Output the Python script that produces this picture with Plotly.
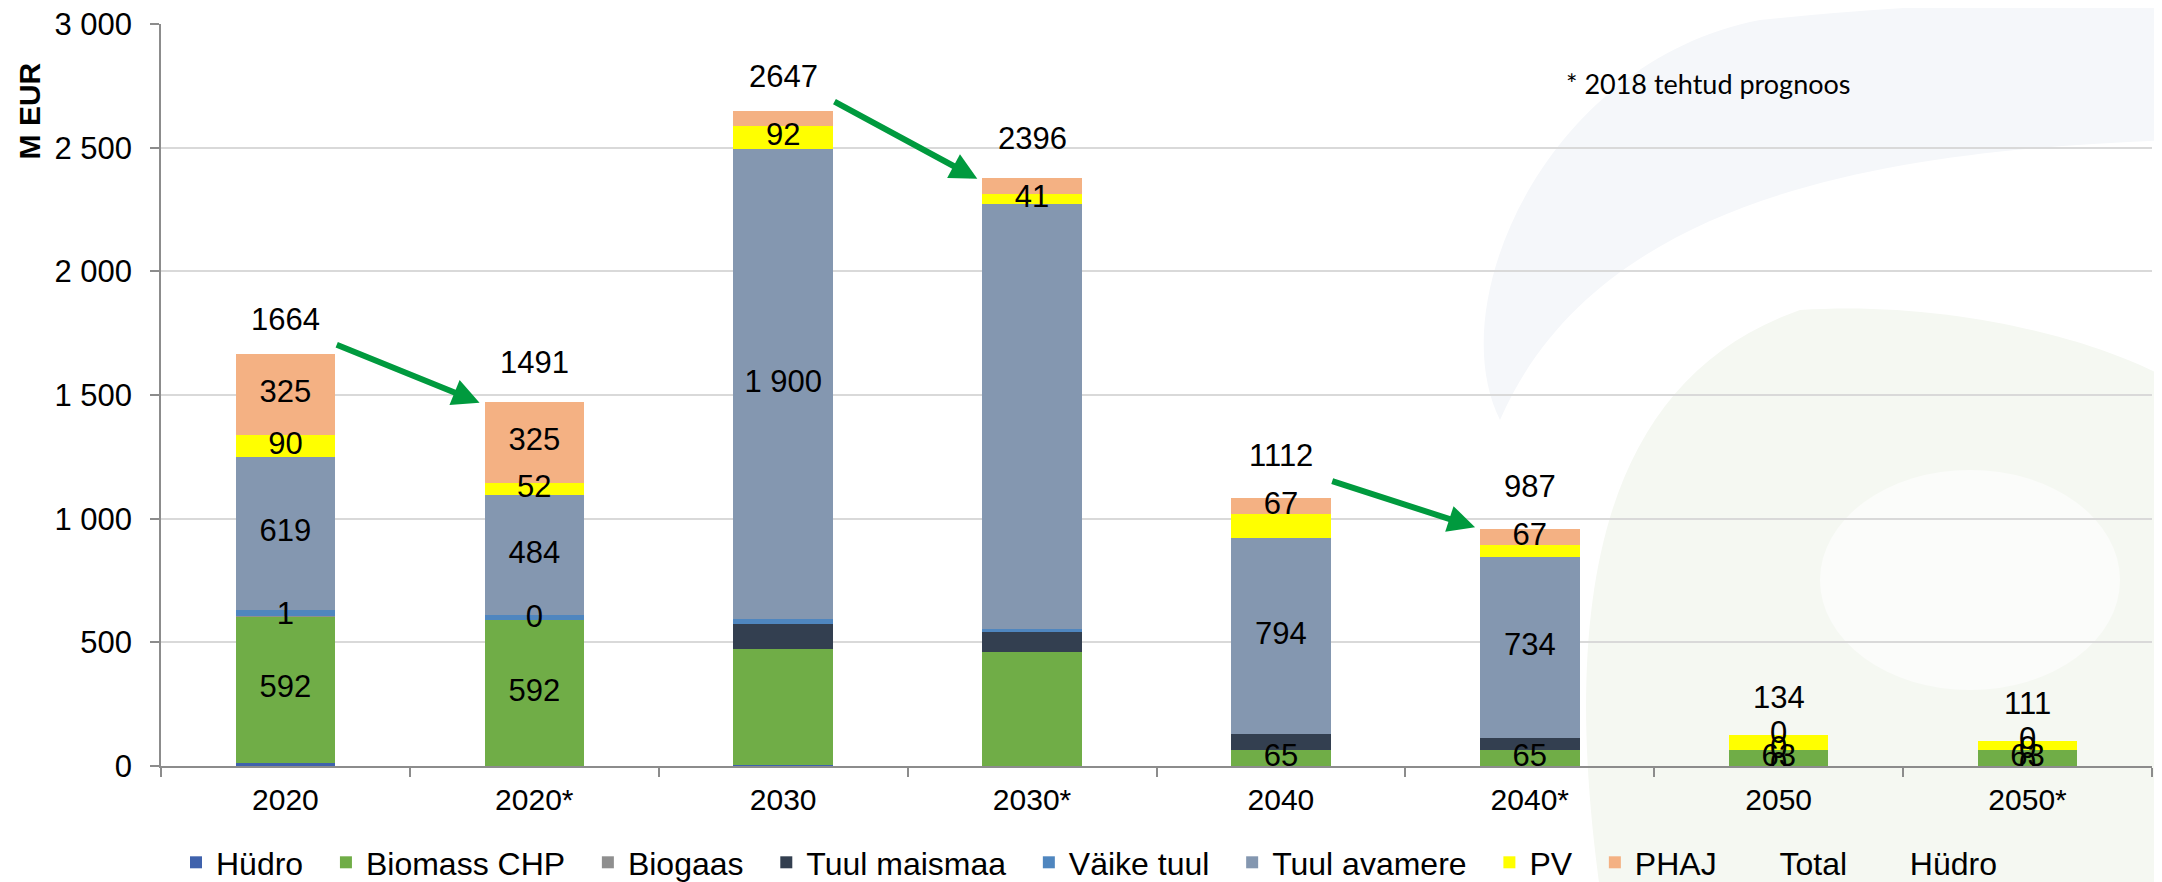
import plotly.graph_objects as go

# Categories (years; * = 2018 forecast)
categories = ["2020", "2020*", "2030", "2030*", "2040", "2040*", "2050", "2050*"]

# Stacked series values, M EUR
hudro = [14, 0, 5, 0, 0, 0, 0, 0]
biomass_chp = [592, 592, 470, 460, 65, 65, 63, 63]
biogaas = [1, 0, 0, 0, 0, 0, 0, 0]
tuul_maismaa = [0, 0, 100, 80, 64, 48, 0, 0]
vaike_tuul = [23, 18, 20, 12, 0, 0, 0, 0]
tuul_avamere = [619, 484, 1900, 1720, 794, 734, 0, 0]
pv = [90, 52, 92, 41, 95, 46, 62, 38]
phaj = [325, 325, 60, 65, 67, 67, 0, 0]
total = [1664, 1491, 2647, 2396, 1112, 987, 134, 111]

# Which data labels are visible on the original slide (1 = shown)
hudro_lbl = [0, 0, 0, 0, 0, 0, 1, 1]
biomass_lbl = [1, 1, 0, 0, 1, 1, 1, 1]
biogaas_lbl = [1, 1, 0, 0, 0, 0, 0, 0]
tuul_maismaa_lbl = [0, 0, 0, 0, 0, 0, 0, 0]
vaike_tuul_lbl = [0, 0, 0, 0, 0, 0, 1, 1]
tuul_avamere_lbl = [1, 1, 1, 0, 1, 1, 0, 0]
pv_lbl = [1, 1, 1, 1, 0, 0, 0, 0]
phaj_lbl = [1, 1, 0, 0, 1, 1, 1, 1]

# Arrows: (from category index, to category index)
arrow_pairs = [(0, 1), (2, 3), (4, 5)]

FONT = "Liberation Sans, Arial, sans-serif"
W, H = 2162, 882
# the page body adds an 8px offset, margins compensate for it
M_L, M_R, M_T, M_B = 153, 18, 16, 124
PAD = "\u00a0\u00a0"  # extra room between legend entries


def fmt(v):
    return f"{v:,}".replace(",", " ")


def px(x, y):
    """page pixel position -> paper coordinates (for background decoration)"""
    pw = W - M_L - M_R
    ph = H - M_T - M_B
    return (x - 8 - M_L) / pw, (H - M_B - (y - 8)) / ph


series = [
    ("Hüdro", hudro, "#3F62AC", hudro_lbl),
    ("Biomass CHP", biomass_chp, "#70AD47", biomass_lbl),
    ("Biogaas", biogaas, "#8F8F8F", biogaas_lbl),
    ("Tuul maismaa", tuul_maismaa, "#333F50", tuul_maismaa_lbl),
    ("Väike tuul", vaike_tuul, "#4F86BF", vaike_tuul_lbl),
    ("Tuul avamere", tuul_avamere, "#8497B0", tuul_avamere_lbl),
    ("PV", pv, "#FFFF00", pv_lbl),
    ("PHAJ", phaj, "#F4B183", phaj_lbl),
]

fig = go.Figure()

base = [0] * len(categories)
lx, ly, lt = [], [], []
for name, vals, color, mask in series:
    fig.add_trace(go.Bar(
        x=categories, y=vals, name=name + PAD,
        marker=dict(color=color, line=dict(width=0)),
    ))
    for i, v in enumerate(vals):
        if mask[i]:
            lx.append(categories[i])
            ly.append(base[i] + v / 2)
            lt.append(fmt(v))
        base[i] += v

# legend-only entries without a symbol
fig.add_trace(go.Scatter(x=categories, y=total, name="Total" + PAD, mode="lines",
                         line=dict(width=0, color="rgba(0,0,0,0)"), hoverinfo="skip"))
fig.add_trace(go.Scatter(x=categories, y=hudro, name="Hüdro", mode="lines",
                         line=dict(width=0, color="rgba(0,0,0,0)"), hoverinfo="skip"))

# segment data labels
fig.add_trace(go.Scatter(
    x=lx, y=ly, text=lt, mode="text", textposition="middle center",
    textfont=dict(family=FONT, size=31, color="black"),
    showlegend=False, hoverinfo="skip",
))

annotations = []
# total labels above bars (category index positions)
for i, t in enumerate(total):
    annotations.append(dict(
        x=i, y=t, xref="x", yref="y", text=str(t), showarrow=False,
        yshift=35, yanchor="middle",
        font=dict(family=FONT, size=31, color="black"),
    ))

# green arrows between actual and 2018 forecast
for a, b in arrow_pairs:
    annotations.append(dict(
        x=b - 0.22, y=total[b] - 22, xref="x", yref="y",
        ax=a + 0.2, ay=total[a] + 42, axref="x", ayref="y",
        showarrow=True, arrowhead=2, arrowsize=0.9, arrowwidth=6,
        arrowcolor="#009A3E", text="",
    ))

# axis title placed near the top like on the slide
annotations.append(dict(
    text="<b>M EUR</b>", x=-0.066, y=0.883, xref="paper", yref="paper",
    textangle=-90, showarrow=False, xanchor="center", yanchor="middle",
    font=dict(family=FONT, size=30, color="black"),
))
annotations.append(dict(
    text="* 2018 tehtud prognoos", x=px(1708, 83)[0], y=px(1708, 83)[1],
    xref="paper", yref="paper",
    showarrow=False, xanchor="center", yanchor="middle",
    font=dict(family="Lato, Carlito, sans-serif", size=27, color="black"),
))

# faint slide background swooshes
bx = [px(*p) for p in [(2170, 0), (2170, 140), (1900, 150), (1600, 190), (1500, 420),
                       (1440, 300), (1550, 60), (1760, 20), (1950, 0)]]
gx = [px(*p) for p in [(1600, 890), (1560, 600), (1600, 380), (1800, 310), (1950, 300),
                       (2100, 340), (2170, 380), (2170, 890)]]
wx = [px(*p) for p in [(1820, 470), (2120, 690)]]


def path_str(pts):
    s = f"M {pts[0][0]},{pts[0][1]} L {pts[1][0]},{pts[1][1]} "
    s += f"C {pts[2][0]},{pts[2][1]} {pts[3][0]},{pts[3][1]} {pts[4][0]},{pts[4][1]} "
    s += f"C {pts[5][0]},{pts[5][1]} {pts[6][0]},{pts[6][1]} {pts[7][0]},{pts[7][1]} "
    if len(pts) > 8:
        s += f"Q {pts[8][0]},{pts[8][1]} {pts[0][0]},{pts[0][1]} "
    return s + "Z"


shapes = [
    dict(type="path", xref="paper", yref="paper", path=path_str(bx),
         fillcolor="#F5F7FA", line=dict(width=0), layer="below"),
    dict(type="path", xref="paper", yref="paper",
         path=f"M {gx[0][0]},{gx[0][1]} C {gx[1][0]},{gx[1][1]} {gx[2][0]},{gx[2][1]} {gx[3][0]},{gx[3][1]} "
              f"C {gx[4][0]},{gx[4][1]} {gx[5][0]},{gx[5][1]} {gx[6][0]},{gx[6][1]} "
              f"L {gx[7][0]},{gx[7][1]} Z",
         fillcolor="#F5F8F2", line=dict(width=0), layer="below"),
    dict(type="circle", xref="paper", yref="paper",
         x0=wx[0][0], y0=wx[1][1], x1=wx[1][0], y1=wx[0][1],
         fillcolor="#FBFCFA", line=dict(width=0), layer="below"),
]

fig.update_layout(
    width=W, height=H,
    margin=dict(l=M_L, r=M_R, t=M_T, b=M_B, autoexpand=False),
    barmode="stack",
    bargap=0.6,
    paper_bgcolor="white",
    plot_bgcolor="rgba(0,0,0,0)",
    font=dict(family=FONT, size=30, color="black"),
    showlegend=True,
    legend=dict(
        orientation="h", traceorder="normal",
        xref="container", yref="container",
        x=0.5, xanchor="center", y=0.0, yanchor="bottom",
        font=dict(family=FONT, size=32, color="black"),
        bgcolor="rgba(0,0,0,0)",
    ),
    xaxis=dict(
        type="category", range=[-0.5, len(categories) - 0.5],
        showline=True, linecolor="#8C8C8C", linewidth=1.5,
        ticks="outside", tickson="boundaries", ticklen=9, tickcolor="#8C8C8C", tickwidth=1.5,
        showgrid=False, tickfont=dict(family=FONT, size=30),
        ticklabelstandoff=6, tickangle=0, automargin=False,
    ),
    yaxis=dict(
        range=[0, 3000], dtick=500, tickformat=",d",
        showline=True, linecolor="#8C8C8C", linewidth=1.5,
        ticks="outside", ticklen=9, tickcolor="#8C8C8C", tickwidth=1.5,
        showgrid=True, gridcolor="#D9D9D9", gridwidth=1.5,
        zeroline=False, tickfont=dict(family=FONT, size=31),
        ticklabelstandoff=12, ticklabeloverflow="allow", automargin=False,
    ),
    separators=". ",
    annotations=annotations,
    shapes=shapes,
)

fig.write_html("out.html")
